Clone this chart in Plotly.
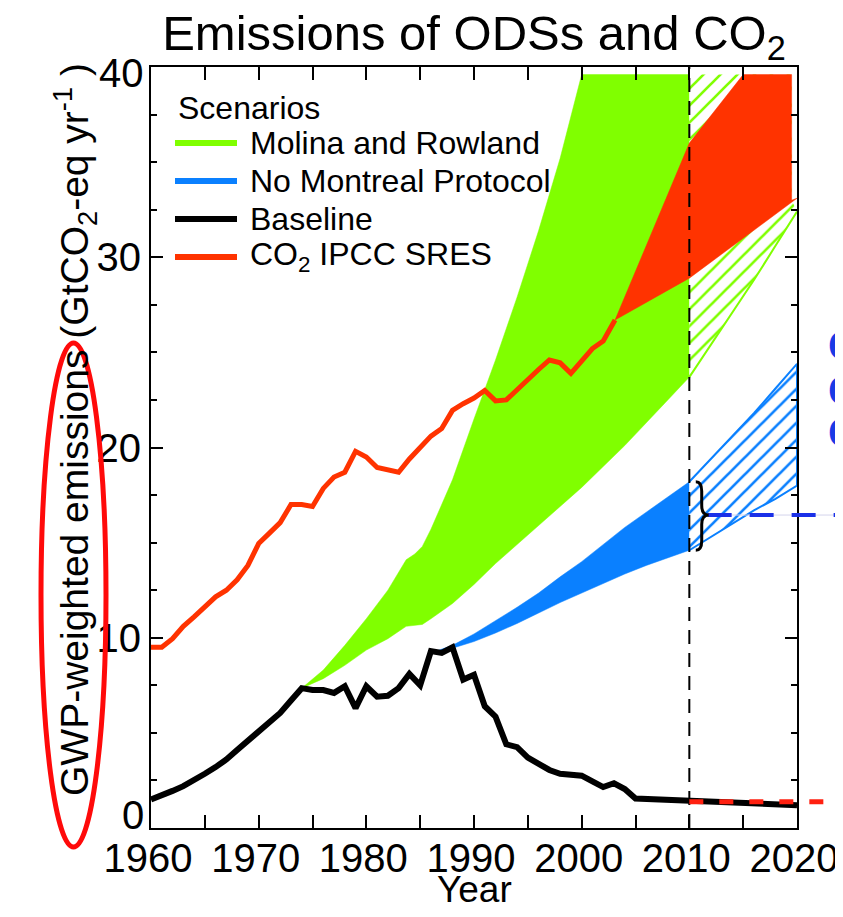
import plotly.graph_objects as go

# ---------------- data ----------------
base_years = list(range(1960, 2011)) + [2015, 2020]
base_vals = [1.5, 1.7, 1.95, 2.2, 2.5, 2.85, 3.2, 3.6, 4.1, 4.6,
             5.1, 5.5, 6.05, 6.7, 7.35, 7.25, 7.25, 7.1, 7.45, 6.3,
             7.45, 6.9, 6.95, 7.35, 8.1, 7.5, 9.3, 9.2, 9.5, 7.8,
             8.05, 6.4, 5.85, 4.4, 4.25, 3.7, 3.35, 3.05, 2.85, 2.8,
             2.75, 2.45, 2.15, 2.35, 2.05, 1.55, 1.53, 1.5, 1.48, 1.45,
             1.42, 1.3, 1.2]

co2_years = list(range(1960, 2003)) + [2003.1]
co2_vals = [9.5, 9.5, 9.95, 10.6, 11.1, 11.6, 12.15, 12.5, 13.05, 13.8,
            14.95, 15.5, 16.05, 17.0, 17.0, 16.9, 17.85, 18.45, 18.7, 19.8,
            19.5, 18.95, 18.8, 18.7, 19.4, 20.0, 20.6, 21.0, 21.95, 22.3,
            22.6, 23.0, 22.45, 22.5, 23.05, 23.6, 24.1, 24.6, 24.45, 23.9,
            24.6, 25.2, 25.6, 26.7]

# IPCC SRES CO2 range (projection)
sres_up_years = [2003.1, 2010, 2015, 2019.5, 2019.5]
sres_up_vals = [26.7, 36.0, 39.6, 39.6, 33.0]
sres_lo_years = [2003.1, 2010, 2020]
sres_lo_vals = [26.7, 28.9, 33.1]

# Molina and Rowland range
mr_up_years = [1974, 1976, 1978, 1980, 1982, 1983.7, 1984.5, 1985.2, 1986, 1988,
               1990, 1992, 1994, 1996, 1998, 2000, 2010]
mr_up_vals = [7.35, 8.3, 9.6, 11.0, 12.5, 14.1, 14.4, 14.8, 15.7, 18.3,
              21.5, 24.6, 27.9, 31.4, 35.2, 39.6, 39.6]
mr_lo_years = [1974, 1976, 1978, 1980, 1982, 1983.7, 1985.2, 1986, 1988, 1990,
               1992, 1994, 1996, 1998, 2000, 2002, 2004, 2006, 2008, 2010]
mr_lo_vals = [7.35, 7.85, 8.55, 9.35, 9.95, 10.6, 10.7, 11.0, 11.8, 12.8,
              13.9, 14.9, 15.9, 16.9, 17.9, 19.0, 20.1, 21.3, 22.5, 23.7]
# Molina and Rowland projection (hatched)
mrp_up_years = [2010, 2019.5, 2019.5, 2020]
mrp_up_vals = [39.6, 39.6, 33.0, 32.4]
mrp_lo_years = [2010, 2012, 2014, 2016, 2018, 2020]
mrp_lo_vals = [23.7, 25.4, 27.1, 28.8, 30.6, 32.4]

# No Montreal Protocol range
nm_years = [1986.5, 1988, 1990, 1992, 1994, 1996, 1998, 2000, 2002, 2004, 2006, 2008, 2010]
nm_up_vals = [9.3, 9.6, 10.2, 10.9, 11.6, 12.35, 13.2, 14.0, 14.9, 15.8, 16.6, 17.4, 18.2]
nm_lo_vals = [9.3, 9.45, 9.8, 10.25, 10.75, 11.3, 11.85, 12.35, 12.85, 13.35, 13.8, 14.2, 14.6]
# No Montreal Protocol projection (hatched)
nmp_years = [2010, 2012, 2014, 2016, 2018, 2020]
nmp_up_vals = [18.2, 19.4, 20.6, 21.8, 23.1, 24.4]
nmp_lo_vals = [14.6, 15.3, 16.0, 16.7, 17.3, 18.0]

projection_start = 2010
avoided_level = 16.45      # blue dashed reference level
baseline_2010_level = 1.38 # red dashed reference level

y_tick_vals = [0, 10, 20, 30, 40]
y_tick_text = ["0", "10", "20", "30", "40"]

legend_title = "Scenarios"
legend_names = ["Molina and Rowland", "No Montreal Protocol", "Baseline",
                "CO<sub>2</sub> IPCC SRES"]

# ---------------- styling ----------------
GREEN = "#80ff00"
BLUE = "#0a80ff"
RED = "#ff3300"
BLACK = "#000000"
FONT = "Liberation Sans, Arial, sans-serif"
X0, X1 = 1960, 2020
Y0, Y1 = 0, 40
OFF = 8                      # page body margin of the html page
W, H = 843 - OFF, 917 - OFF
L, T = 151 - OFF, 67 - OFF
R, B = 46, 89
PW, PH = W - L - R, H - T - B


def band(xu, yu, xl, yl):
    return list(xu) + list(xl)[::-1], list(yu) + list(yl)[::-1]


def xp(year):
    return (year - X0) / (X1 - X0)


def yp(val):
    return (val - Y0) / (Y1 - Y0)


def px_x(px):   # page pixel -> paper x
    return (px - OFF - L) / PW


def px_y(py):   # page pixel -> paper y
    return (H - B - (py - OFF)) / PH


fig = go.Figure()

# Molina and Rowland band
bx, by = band(mr_up_years, mr_up_vals, mr_lo_years, mr_lo_vals)
fig.add_trace(go.Scatter(x=bx, y=by, fill="toself", fillcolor=GREEN, mode="lines",
                         line=dict(width=0.5, color=GREEN), showlegend=False, hoverinfo="skip"))
bx, by = band(mrp_up_years, mrp_up_vals, mrp_lo_years, mrp_lo_vals)
fig.add_trace(go.Scatter(x=bx, y=by, fill="toself", mode="none", fillcolor="white",
                         fillpattern=dict(shape="/", fgcolor=GREEN, bgcolor="white",
                                          fgopacity=1, size=12, solidity=0.22),
                         showlegend=False, hoverinfo="skip"))
fig.add_trace(go.Scatter(x=mrp_lo_years, y=mrp_lo_vals, mode="lines",
                         line=dict(width=2, color=GREEN), showlegend=False, hoverinfo="skip"))

# SRES band
bx, by = band(sres_up_years, sres_up_vals, sres_lo_years, sres_lo_vals)
fig.add_trace(go.Scatter(x=bx, y=by, fill="toself", fillcolor=RED, mode="lines",
                         line=dict(width=0.5, color=RED), showlegend=False, hoverinfo="skip"))

# CO2 history
fig.add_trace(go.Scatter(x=co2_years, y=co2_vals, mode="lines",
                         line=dict(color=RED, width=5), showlegend=False))

# No Montreal Protocol band
bx, by = band(nm_years, nm_up_vals, nm_years, nm_lo_vals)
fig.add_trace(go.Scatter(x=bx, y=by, fill="toself", fillcolor=BLUE, mode="lines",
                         line=dict(width=0.5, color=BLUE), showlegend=False, hoverinfo="skip"))
bx, by = band(nmp_years, nmp_up_vals, nmp_years, nmp_lo_vals)
fig.add_trace(go.Scatter(x=bx, y=by, fill="toself", mode="lines", fillcolor="white",
                         line=dict(width=2, color=BLUE),
                         fillpattern=dict(shape="/", fgcolor=BLUE, bgcolor="white",
                                          fgopacity=1, size=12, solidity=0.22),
                         showlegend=False, hoverinfo="skip"))

# Baseline
fig.add_trace(go.Scatter(x=base_years, y=base_vals, mode="lines",
                         line=dict(color=BLACK, width=6), showlegend=False))

shapes = [
    # projection start line
    dict(type="line", xref="x", yref="paper", x0=projection_start, x1=projection_start,
         y0=0, y1=1, line=dict(color=BLACK, width=2, dash="14px,9px")),
    # faint guide under blue dashed line
    dict(type="line", xref="paper", yref="paper", x0=xp(2011.5), x1=1.08,
         y0=yp(avoided_level), y1=yp(avoided_level), line=dict(color="#d4d4ec", width=1)),
    dict(type="line", xref="paper", yref="paper", x0=xp(2011.7), x1=1.08,
         y0=yp(avoided_level), y1=yp(avoided_level),
         line=dict(color="#1a30e8", width=4, dash="24px,18px")),
    dict(type="line", xref="paper", yref="paper", x0=xp(projection_start), x1=1.08,
         y0=yp(baseline_2010_level), y1=yp(baseline_2010_level),
         line=dict(color="#ff2010", width=5, dash="14px,16px")),
    # brace
    dict(type="path", xref="x", yref="y",
         path=("M 2010.6,18.2 Q 2011.15,18.2 2011.15,17.7 L 2011.15,16.95 "
               "Q 2011.15,16.45 2011.8,16.45 Q 2011.15,16.45 2011.15,15.95 "
               "L 2011.15,15.1 Q 2011.15,14.6 2010.6,14.6"),
         line=dict(color=BLACK, width=3)),
    # red ellipse highlight
    dict(type="circle", xref="paper", yref="paper", x0=px_x(41), x1=px_x(106),
         y0=px_y(847), y1=px_y(343), line=dict(color="#ff0a0a", width=5)),
]

annotations = []
# manual legend
annotations.append(dict(text=legend_title, xref="paper", yref="paper",
                        x=px_x(176), y=px_y(108), xanchor="left", yanchor="middle",
                        showarrow=False, font=dict(family=FONT, size=32, color=BLACK)))
for i, (name, col) in enumerate(zip(legend_names, [GREEN, BLUE, BLACK, RED])):
    yy = px_y(143 + 38 * i)
    shapes.append(dict(type="line", xref="paper", yref="paper", x0=px_x(175), x1=px_x(237),
                       y0=yy, y1=yy, line=dict(color=col, width=6)))
    annotations.append(dict(text=name, xref="paper", yref="paper", x=px_x(248), y=yy,
                            xanchor="left", yanchor="middle", showarrow=False,
                            font=dict(family=FONT, size=32, color=BLACK)))

# end labels of the y axis sit slightly inside the axis range (as in the reference)
axis_text = list(y_tick_text)
end_shift = {0: -13, len(y_tick_vals) - 1: 6}
for idx, dy in end_shift.items():
    axis_text[idx] = ""
    annotations.append(dict(text=y_tick_text[idx], xref="paper", yref="paper",
                            x=px_x(146), y=yp(y_tick_vals[idx]) - dy / PH,
                            xanchor="right", yanchor="middle", showarrow=False,
                            font=dict(family=FONT, size=40, color=BLACK)))

# axis titles
annotations.append(dict(text="Year", xref="paper", yref="paper", x=0.5, y=px_y(889),
                        xanchor="center", yanchor="middle", showarrow=False,
                        font=dict(family=FONT, size=37, color=BLACK)))
annotations.append(dict(text="GWP-weighted emissions (GtCO<sub>2</sub>-eq yr<sup>-1</sup> )",
                        xref="paper", yref="paper", x=px_x(75), y=px_y(430),
                        xanchor="center", yanchor="middle", textangle=-90, showarrow=False,
                        font=dict(family=FONT, size=39, color=BLACK)))

# partially visible blue text at right edge
for py in [345, 390, 432]:
    annotations.append(dict(text="<b>C</b>", xref="paper", yref="paper", x=px_x(826),
                            y=px_y(py), xanchor="left", yanchor="middle", showarrow=False,
                            font=dict(family=FONT, size=42, color="#1a3ae6")))

axis_common = dict(showgrid=False, zeroline=False, showline=True, linecolor=BLACK,
                   linewidth=2, mirror="ticks", ticks="inside", tickcolor=BLACK,
                   tickwidth=2, automargin=False,
                   tickfont=dict(family=FONT, size=40, color=BLACK))

fig.update_layout(
    width=W, height=H,
    margin=dict(l=L, r=R, t=T, b=B, autoexpand=False),
    paper_bgcolor="white", plot_bgcolor="white",
    title=dict(text="Emissions of ODSs and CO<sub>2</sub>", x=0.5, xref="paper",
               xanchor="center", y=1 - (33 - OFF) / H, yref="container", yanchor="middle",
               font=dict(family=FONT, size=49, color=BLACK)),
    xaxis=dict(range=[X0, X1], tick0=1960, dtick=10, ticklen=13, ticklabelshift=-3,
               ticklabelstandoff=-6,
               minor=dict(dtick=5, ticklen=13, tickwidth=2, tickcolor=BLACK, ticks="inside"),
               **axis_common),
    yaxis=dict(range=[Y0, Y1], tickmode="array", tickvals=y_tick_vals, ticktext=axis_text,
               ticklen=12,
               minor=dict(dtick=2.5, ticklen=6, tickwidth=2, tickcolor=BLACK, ticks="inside"),
               **axis_common),
    shapes=shapes,
    annotations=annotations,
    showlegend=False,
)

fig.write_html("out.html")
